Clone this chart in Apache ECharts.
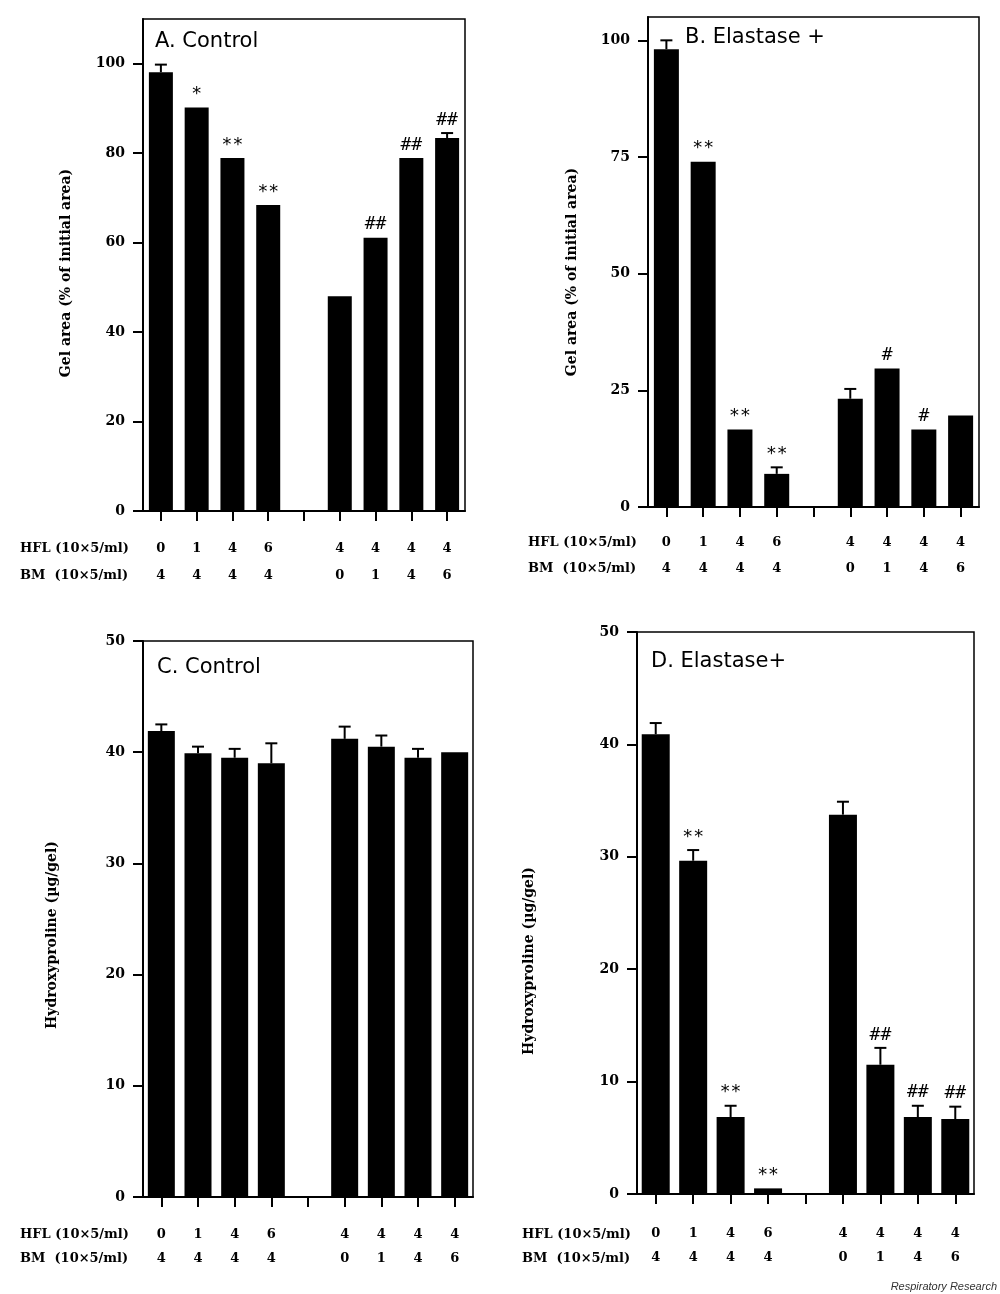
<!DOCTYPE html>
<html><head><meta charset="utf-8">
<script src="https://cdn.jsdelivr.net/npm/echarts@6/dist/echarts.min.js"></script>
<style>html,body{margin:0;padding:0;background:#fff}#c{width:1000px;height:1294px}</style>
</head><body><div id="c"></div>
<script>
// ---- data ----
const hflDoses = ['0', '1', '4', '6', '', '4', '4', '4', '4'];
const bmDoses  = ['4', '4', '4', '4', '', '0', '1', '4', '6'];
const hflRowLabel = 'HFL (10×5/ml)';
const bmRowLabel  = 'BM  (10×5/ml)';

const gelControl    = [98.1, 90.2, 78.9, 68.4, null, 48.0, 61.1, 78.9, 83.4];
const gelControlErr = [1.7, 0, 0, 0, null, 0, 0, 0, 1.1];
const gelControlSig = ['', '*', '**', '**', '', '', '##', '##', '##'];

const gelElastase    = [98.1, 74.0, 16.6, 7.1, null, 23.2, 29.7, 16.6, 19.6];
const gelElastaseErr = [1.9, 0, 0, 1.4, null, 2.1, 0, 0, 0];
const gelElastaseSig = ['', '**', '**', '**', '', '', '#', '#', ''];

const hypControl    = [41.9, 39.9, 39.5, 39.0, null, 41.2, 40.5, 39.5, 40.0];
const hypControlErr = [0.6, 0.6, 0.8, 1.8, null, 1.1, 1.0, 0.8, 0];
const hypControlSig = ['', '', '', '', '', '', '', '', ''];

const hypElastase    = [40.9, 29.65, 6.85, 0.5, null, 33.75, 11.5, 6.85, 6.67];
const hypElastaseErr = [1.0, 0.95, 1.0, 0, null, 1.15, 1.5, 1.0, 1.1];
const hypElastaseSig = ['', '**', '**', '**', '', '', '##', '##', '##'];

const ticksGelA = [0, 20, 40, 60, 80, 100];
const ticksGelB = [0, 25, 50, 75, 100];
const ticksHyp  = [0, 10, 20, 30, 40, 50];

const gelTitle = 'Gel area (% of initial area)';
const hypTitle = 'Hydroxyproline (µg/gel)';

// ---- layout ----
const panels = [
  { grid: {left: 143, top: 19, width: 322, height: 492}, max: 110, interval: 20, ticks: ticksGelA,
    values: gelControl, err: gelControlErr, sig: gelControlSig, barWidth: 24,
    labelMargin: 24.5, lineHeight: 27,
    title: 'A. Control', titlePos: [155, 43], yTitle: gelTitle, yTitlePos: [66, 273], rowX: 20, rowY: [549, 576] },
  { grid: {left: 648, top: 17, width: 331, height: 490}, max: 105, interval: 25, ticks: ticksGelB,
    values: gelElastase, err: gelElastaseErr, sig: gelElastaseSig, barWidth: 25,
    labelMargin: 22.5, lineHeight: 26,
    title: 'B. Elastase +', titlePos: [685, 39], yTitle: gelTitle, yTitlePos: [572, 272], rowX: 528, rowY: [543, 569] },
  { grid: {left: 143, top: 641, width: 330, height: 556}, max: 50, interval: 10, ticks: ticksHyp,
    values: hypControl, err: hypControlErr, sig: hypControlSig, barWidth: 27,
    labelMargin: 25, lineHeight: 24.5,
    title: 'C. Control', titlePos: [157, 669], yTitle: hypTitle, yTitlePos: [52, 935], rowX: 20, rowY: [1235, 1259] },
  { grid: {left: 637, top: 632, width: 337, height: 562}, max: 50, interval: 10, ticks: ticksHyp,
    values: hypElastase, err: hypElastaseErr, sig: hypElastaseSig, barWidth: 28,
    labelMargin: 27, lineHeight: 24.5,
    title: 'D. Elastase+', titlePos: [651, 663], yTitle: hypTitle, yTitlePos: [529, 961], rowX: 522, rowY: [1235, 1259] }
];

const serif = '"DejaVu Serif", serif';
const chart = echarts.init(document.getElementById('c'), null, {renderer: 'canvas'});

const grids = [], xAxes = [], yAxes = [], series = [], graphics = [];
panels.forEach((p, k) => {
  grids.push(Object.assign({show: true, borderColor: '#000', borderWidth: 1.5, containLabel: false}, p.grid));
  xAxes.push({
    type: 'category', gridIndex: k, data: hflDoses.map((_, i) => String(i)),
    boundaryGap: true,
    axisLine: {show: true, lineStyle: {color: '#000', width: 2}},
    axisTick: {show: true, alignWithLabel: true, length: 10, lineStyle: {color: '#000', width: 2}},
    axisLabel: {
      interval: 0, margin: p.labelMargin, color: '#000',
      fontFamily: serif, fontWeight: 'bold', fontSize: 13, lineHeight: p.lineHeight,
      formatter: (v, i) => hflDoses[i] + '\n' + bmDoses[i]
    },
    splitLine: {show: false}
  });
  yAxes.push({
    type: 'value', gridIndex: k, min: 0, max: p.max, interval: p.interval,
    axisLine: {show: true, lineStyle: {color: '#000', width: 2}},
    axisTick: {show: true, length: 10, lineStyle: {color: '#000', width: 2}, customValues: p.ticks},
    axisLabel: {color: '#000', fontFamily: serif, fontWeight: 'bold', fontSize: 14, margin: 18,
      customValues: p.ticks},
    splitLine: {show: false}
  });
  series.push({
    type: 'bar', xAxisIndex: k, yAxisIndex: k, data: p.values, barWidth: p.barWidth,
    itemStyle: {color: '#000'}, silent: true
  });
  const sig = p.sig;
  series.push({
    type: 'custom', xAxisIndex: k, yAxisIndex: k, silent: true, z: 5,
    data: p.values.map((v, i) => [i, v, p.err[i]]),
    renderItem: (params, api) => {
      const i = api.value(0), v = api.value(1), e = api.value(2);
      if (v == null || isNaN(v)) return null;
      const base = api.coord([i, v]);
      const top = api.coord([i, v + (e || 0)]);
      const children = [];
      if (e > 0) {
        children.push({type: 'line', shape: {x1: base[0], y1: base[1], x2: top[0], y2: top[1]},
          style: {stroke: '#000', lineWidth: 2}});
        children.push({type: 'line', shape: {x1: top[0] - 6, y1: top[1], x2: top[0] + 6, y2: top[1]},
          style: {stroke: '#000', lineWidth: 2}});
      }
      const s = sig[params.dataIndex];
      if (s) {
        children.push({type: 'text', style: {text: s, x: base[0], y: top[1] - 13,
          align: 'center', verticalAlign: 'middle', fill: '#000',
          font: '18px "DejaVu Sans Mono", monospace'}});
      }
      return {type: 'group', children};
    }
  });
  graphics.push({type: 'text', left: p.titlePos[0], top: p.titlePos[1] - 12,
    style: {text: p.title, font: '21px "DejaVu Sans", sans-serif', fill: '#000'}});
  graphics.push({type: 'text', x: p.yTitlePos[0], y: p.yTitlePos[1], rotation: Math.PI / 2,
    style: {text: p.yTitle, font: 'bold 14px ' + serif, fill: '#000', align: 'center', verticalAlign: 'middle'}});
  graphics.push({type: 'text', x: p.rowX, y: p.rowY[0],
    style: {text: hflRowLabel, font: 'bold 13px ' + serif, fill: '#000', verticalAlign: 'middle'}});
  graphics.push({type: 'text', x: p.rowX, y: p.rowY[1],
    style: {text: bmRowLabel, font: 'bold 13px ' + serif, fill: '#000', verticalAlign: 'middle'}});
});
graphics.push({type: 'text', x: 997, y: 1287,
  style: {text: 'Respiratory Research', font: 'italic 11px "Liberation Sans", Arial, sans-serif', fill: '#333',
    align: 'right', verticalAlign: 'middle'}});

chart.setOption({
  animation: false,
  backgroundColor: '#fff',
  grid: grids, xAxis: xAxes, yAxis: yAxes, series: series, graphic: graphics
});
</script></body></html>
